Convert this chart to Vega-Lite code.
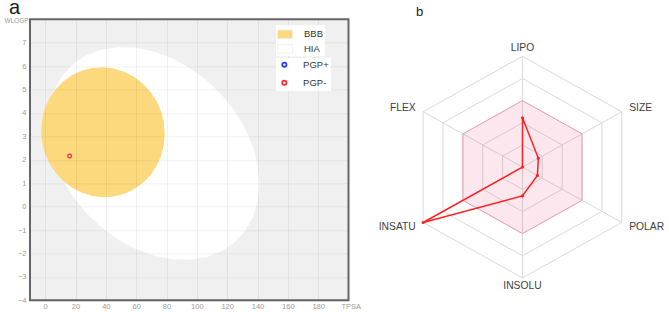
{
  "$schema": "https://vega.github.io/schema/vega-lite/v6.json",
  "padding": {"left": 3, "right": 0, "top": -2.7, "bottom": 0},
  "spacing": 10,
  "background": "white",
  "config": {"font": "Liberation Sans", "view": {"stroke": null}},
  "datasets": {
    "radar": [
      {"axis": "LIPO", "angle": 90, "k": 0, "value": 0.445},
      {"axis": "SIZE", "angle": 30, "k": 1, "value": 0.16},
      {"axis": "POLAR", "angle": -30, "k": 2, "value": 0.15},
      {"axis": "INSOLU", "angle": -90, "k": 3, "value": 0.26},
      {"axis": "INSATU", "angle": -150, "k": 4, "value": 1.0},
      {"axis": "FLEX", "angle": 150, "k": 5, "value": 0}
    ]
  },
  "hconcat": [
    {
      "title": {"text": "a", "anchor": "start", "frame": "group", "fontSize": 20, "fontWeight": "normal", "color": "#1a1a1a", "baseline": "alphabetic", "offset": -17, "dx": -21},
      "width": 318.5,
      "height": 281,
      "view": {"fill": "#f0f0f0", "stroke": "#666666", "strokeWidth": 2},
      "data": {"values": [
        {"group": "HIA", "TPSA": 71.5, "WLOGP": 2.27},
        {"group": "BBB", "TPSA": 38.117, "WLOGP": 3.177},
        {"group": "PGP-", "TPSA": 16.1, "WLOGP": 2.16}
      ]},
      "encoding": {
        "x": {"field": "TPSA", "type": "quantitative",
          "scale": {"domain": [-10, 200], "nice": false, "zero": false},
          "axis": {"values": [0, 20, 40, 60, 80, 100, 120, 140, 160, 180], "grid": true, "gridColor": "#000000", "gridOpacity": 0.06, "ticks": false, "domain": false,
            "labelFontSize": 7.5, "labelColor": "#9b9b9b", "labelPadding": 2,
            "title": "TPSA", "titleFontSize": 7.5, "titleFontWeight": "normal", "titleColor": "#9b9b9b", "titleAlign": "left", "titleBaseline": "middle", "titleX": 311, "titleY": 6, "zindex": 1}},
        "y": {"field": "WLOGP", "type": "quantitative",
          "scale": {"domain": [-4, 8], "nice": false, "zero": false},
          "axis": {"values": [-4, -3, -2, -1, 0, 1, 2, 3, 4, 5, 6, 7], "grid": true, "gridColor": "#000000", "gridOpacity": 0.06, "ticks": false, "domain": false,
            "labelFontSize": 7.5, "labelColor": "#9b9b9b", "labelPadding": 4,
            "title": "WLOGP", "titleFontSize": 6.5, "titleFontWeight": "normal", "titleColor": "#9b9b9b", "titleAngle": 0, "titleAlign": "left", "titleBaseline": "middle", "titleX": -26, "titleY": 1, "zindex": 1}}
      },
      "layer": [
        {
          "transform": [{"filter": "datum.group == 'HIA'"}],
          "mark": {"type": "point", "shape": "M0.9934,0.285L0.9783,0.4471L0.9335,0.5957L0.8603,0.726L0.761,0.8345L0.6386,0.9175L0.4967,0.9726L0.3397,0.9982L0.1725,0.9935L0,0.9585L-0.1725,0.8945L-0.3397,0.8031L-0.4967,0.6876L-0.6386,0.5511L-0.761,0.3978L-0.8603,0.2324L-0.9335,0.06L-0.9783,-0.1142L-0.9934,-0.285L-0.9783,-0.4471L-0.9335,-0.5957L-0.8603,-0.726L-0.761,-0.8345L-0.6386,-0.9175L-0.4967,-0.9726L-0.3397,-0.9982L-0.1725,-0.9935L0,-0.9585L0.1725,-0.8945L0.3397,-0.8031L0.4967,-0.6876L0.6386,-0.5511L0.761,-0.3978L0.8603,-0.2324L0.9335,-0.06L0.9783,0.1142Z", "size": 45369, "filled": true, "opacity": 1, "strokeWidth": 0},
          "encoding": {
            "fill": {"field": "group", "type": "nominal",
              "scale": {"domain": ["BBB", "HIA"], "range": ["#fcd97c", "#ffffff"]},
              "legend": {"title": null, "orient": "none", "legendX": 246, "legendY": 6, "fillColor": "white", "padding": 1,
                "symbolType": "M-1,-0.567L1,-0.567L1,0.567L-1,0.567Z", "symbolSize": 225, "symbolStrokeColor": "#efefef", "symbolStrokeWidth": 0.8, "symbolOpacity": 1,
                "rowPadding": 0.6, "labelOffset": 11, "labelFontSize": 9.5, "labelColor": "#333333",
                "labelExpr": "datum.label + '           '"}}
          }
        },
        {
          "transform": [{"filter": "datum.group == 'BBB'"}],
          "mark": {"type": "point", "shape": "M0.9508,0.0244L0.9363,0.1976L0.8935,0.3649L0.8234,0.5211L0.7283,0.6615L0.6112,0.7817L0.4754,0.8782L0.3252,0.948L0.1651,0.989L0,0.9997L-0.1651,0.9806L-0.3252,0.9314L-0.4754,0.8538L-0.6112,0.7503L-0.7283,0.6241L-0.8234,0.4789L-0.8935,0.3191L-0.9363,0.1496L-0.9508,-0.0244L-0.9363,-0.1976L-0.8935,-0.3649L-0.8234,-0.5211L-0.7283,-0.6615L-0.6112,-0.7817L-0.4754,-0.8782L-0.3252,-0.948L-0.1651,-0.989L0,-0.9997L0.1651,-0.9806L0.3252,-0.9314L0.4754,-0.8538L0.6112,-0.7503L0.7283,-0.6241L0.8234,-0.4789L0.8935,-0.3191L0.9363,-0.1496Z", "size": 16900, "filled": true, "opacity": 1, "strokeWidth": 0},
          "encoding": {
            "fill": {"field": "group", "type": "nominal"}
          }
        },
        {
          "transform": [{"filter": "datum.group == 'PGP-'"}],
          "mark": {"type": "point", "shape": "circle", "filled": false, "fill": "#ffffff", "size": 13, "strokeWidth": 1.3, "opacity": 1},
          "encoding": {
            "stroke": {"field": "group", "type": "nominal",
              "scale": {"domain": ["PGP+", "PGP-"], "range": ["#1f3fff", "#ff2a2a"]},
              "legend": {"title": null, "orient": "none", "legendX": 246, "legendY": 38.6, "fillColor": "white", "padding": 2,
                "symbolType": "circle", "symbolSize": 18, "symbolStrokeWidth": 1.8, "symbolFillColor": "#ffffff", "symbolOpacity": 1, "symbolOffset": 1.6,
                "rowPadding": 6.1, "labelOffset": 14, "labelFontSize": 9.5, "labelColor": "#333333",
                "labelExpr": "datum.label + '          '"}}
          }
        }
      ]
    },
    {
      "title": {"text": "b", "anchor": "start", "frame": "group", "fontSize": 13, "fontWeight": "normal", "color": "#1a1a1a", "baseline": "alphabetic", "offset": -9.6, "dx": 44},
      "width": 299,
      "height": 281,
      "view": {"stroke": null},
      "layer": [
        {
          "data": {"values": [{"ring": 0.2}, {"ring": 0.4}, {"ring": 0.6}, {"ring": 0.8}, {"ring": 1.0}]},
          "mark": {"type": "point", "shape": "M0,-1L0.8965,-0.5L0.8965,0.5L0,1L-0.8965,0.5L-0.8965,-0.5Z", "filled": false, "color": "#d9d9d9", "strokeWidth": 1, "opacity": 1},
          "encoding": {
            "x": {"datum": 0, "type": "quantitative", "scale": {"domain": [-1.312, 1.295], "nice": false, "zero": false}, "axis": null},
            "y": {"datum": 0, "type": "quantitative", "scale": {"domain": [-1.202, 1.334], "nice": false, "zero": false}, "axis": null},
            "size": {"field": "ring", "type": "quantitative", "scale": {"type": "pow", "exponent": 2, "domain": [0, 1], "range": [0, 49104], "zero": true, "nice": false}, "legend": null}
          }
        },
        {
          "data": {"values": [{"ring": 1.0}]},
          "mark": {"type": "point", "shape": "M0,-1L0,1M0.8965,-0.5L-0.8965,0.5M0.8965,0.5L-0.8965,-0.5", "filled": false, "color": "#d9d9d9", "strokeWidth": 1, "opacity": 1},
          "encoding": {
            "x": {"datum": 0, "type": "quantitative"},
            "y": {"datum": 0, "type": "quantitative"},
            "size": {"field": "ring", "type": "quantitative", "legend": null}
          }
        },
        {
          "data": {"values": [{"ring": 0.6}]},
          "mark": {"type": "point", "shape": "M0,-1L0.8965,-0.5L0.8965,0.5L0,1L-0.8965,0.5L-0.8965,-0.5Z", "filled": true, "fill": "#eb4678", "fillOpacity": 0.13, "stroke": "#eba3b8", "strokeWidth": 1, "opacity": 1},
          "encoding": {
            "x": {"datum": 0, "type": "quantitative"},
            "y": {"datum": 0, "type": "quantitative"},
            "size": {"field": "ring", "type": "quantitative", "legend": null}
          }
        },
        {
          "data": {"name": "radar"},
          "transform": [
            {"calculate": "datum.value * cos(datum.angle * PI / 180)", "as": "px"},
            {"calculate": "datum.value * sin(datum.angle * PI / 180)", "as": "py"}
          ],
          "mark": {"type": "line", "interpolate": "linear-closed", "color": "#ff2020", "strokeWidth": 1.5},
          "encoding": {
            "x": {"field": "px", "type": "quantitative"},
            "y": {"field": "py", "type": "quantitative"},
            "order": {"field": "k", "type": "quantitative"}
          }
        },
        {
          "data": {"name": "radar"},
          "transform": [
            {"calculate": "datum.value * cos(datum.angle * PI / 180)", "as": "px"},
            {"calculate": "datum.value * sin(datum.angle * PI / 180)", "as": "py"}
          ],
          "mark": {"type": "point", "filled": true, "color": "#ff2020", "size": 10, "opacity": 1},
          "encoding": {
            "x": {"field": "px", "type": "quantitative"},
            "y": {"field": "py", "type": "quantitative"}
          }
        },
        {
          "data": {"name": "radar"},
          "transform": [
            {"filter": "abs(datum.angle) == 90"},
            {"calculate": "1.075 * cos(datum.angle * PI / 180)", "as": "lx"},
            {"calculate": "1.075 * sin(datum.angle * PI / 180)", "as": "ly"}
          ],
          "mark": {"type": "text", "align": "center", "baseline": "middle", "fontSize": 10.3, "color": "#404040"},
          "encoding": {
            "x": {"field": "lx", "type": "quantitative"},
            "y": {"field": "ly", "type": "quantitative"},
            "text": {"field": "axis"}
          }
        },
        {
          "data": {"name": "radar"},
          "transform": [
            {"filter": "abs(datum.angle) < 90"},
            {"calculate": "1.075 * cos(datum.angle * PI / 180)", "as": "lx"},
            {"calculate": "1.075 * sin(datum.angle * PI / 180)", "as": "ly"}
          ],
          "mark": {"type": "text", "align": "left", "baseline": "middle", "fontSize": 10.3, "color": "#404040"},
          "encoding": {
            "x": {"field": "lx", "type": "quantitative"},
            "y": {"field": "ly", "type": "quantitative"},
            "text": {"field": "axis"}
          }
        },
        {
          "data": {"name": "radar"},
          "transform": [
            {"filter": "abs(datum.angle) > 90"},
            {"calculate": "1.075 * cos(datum.angle * PI / 180)", "as": "lx"},
            {"calculate": "1.075 * sin(datum.angle * PI / 180)", "as": "ly"}
          ],
          "mark": {"type": "text", "align": "right", "baseline": "middle", "fontSize": 10.3, "color": "#404040"},
          "encoding": {
            "x": {"field": "lx", "type": "quantitative"},
            "y": {"field": "ly", "type": "quantitative"},
            "text": {"field": "axis"}
          }
        }
      ]
    }
  ]
}
